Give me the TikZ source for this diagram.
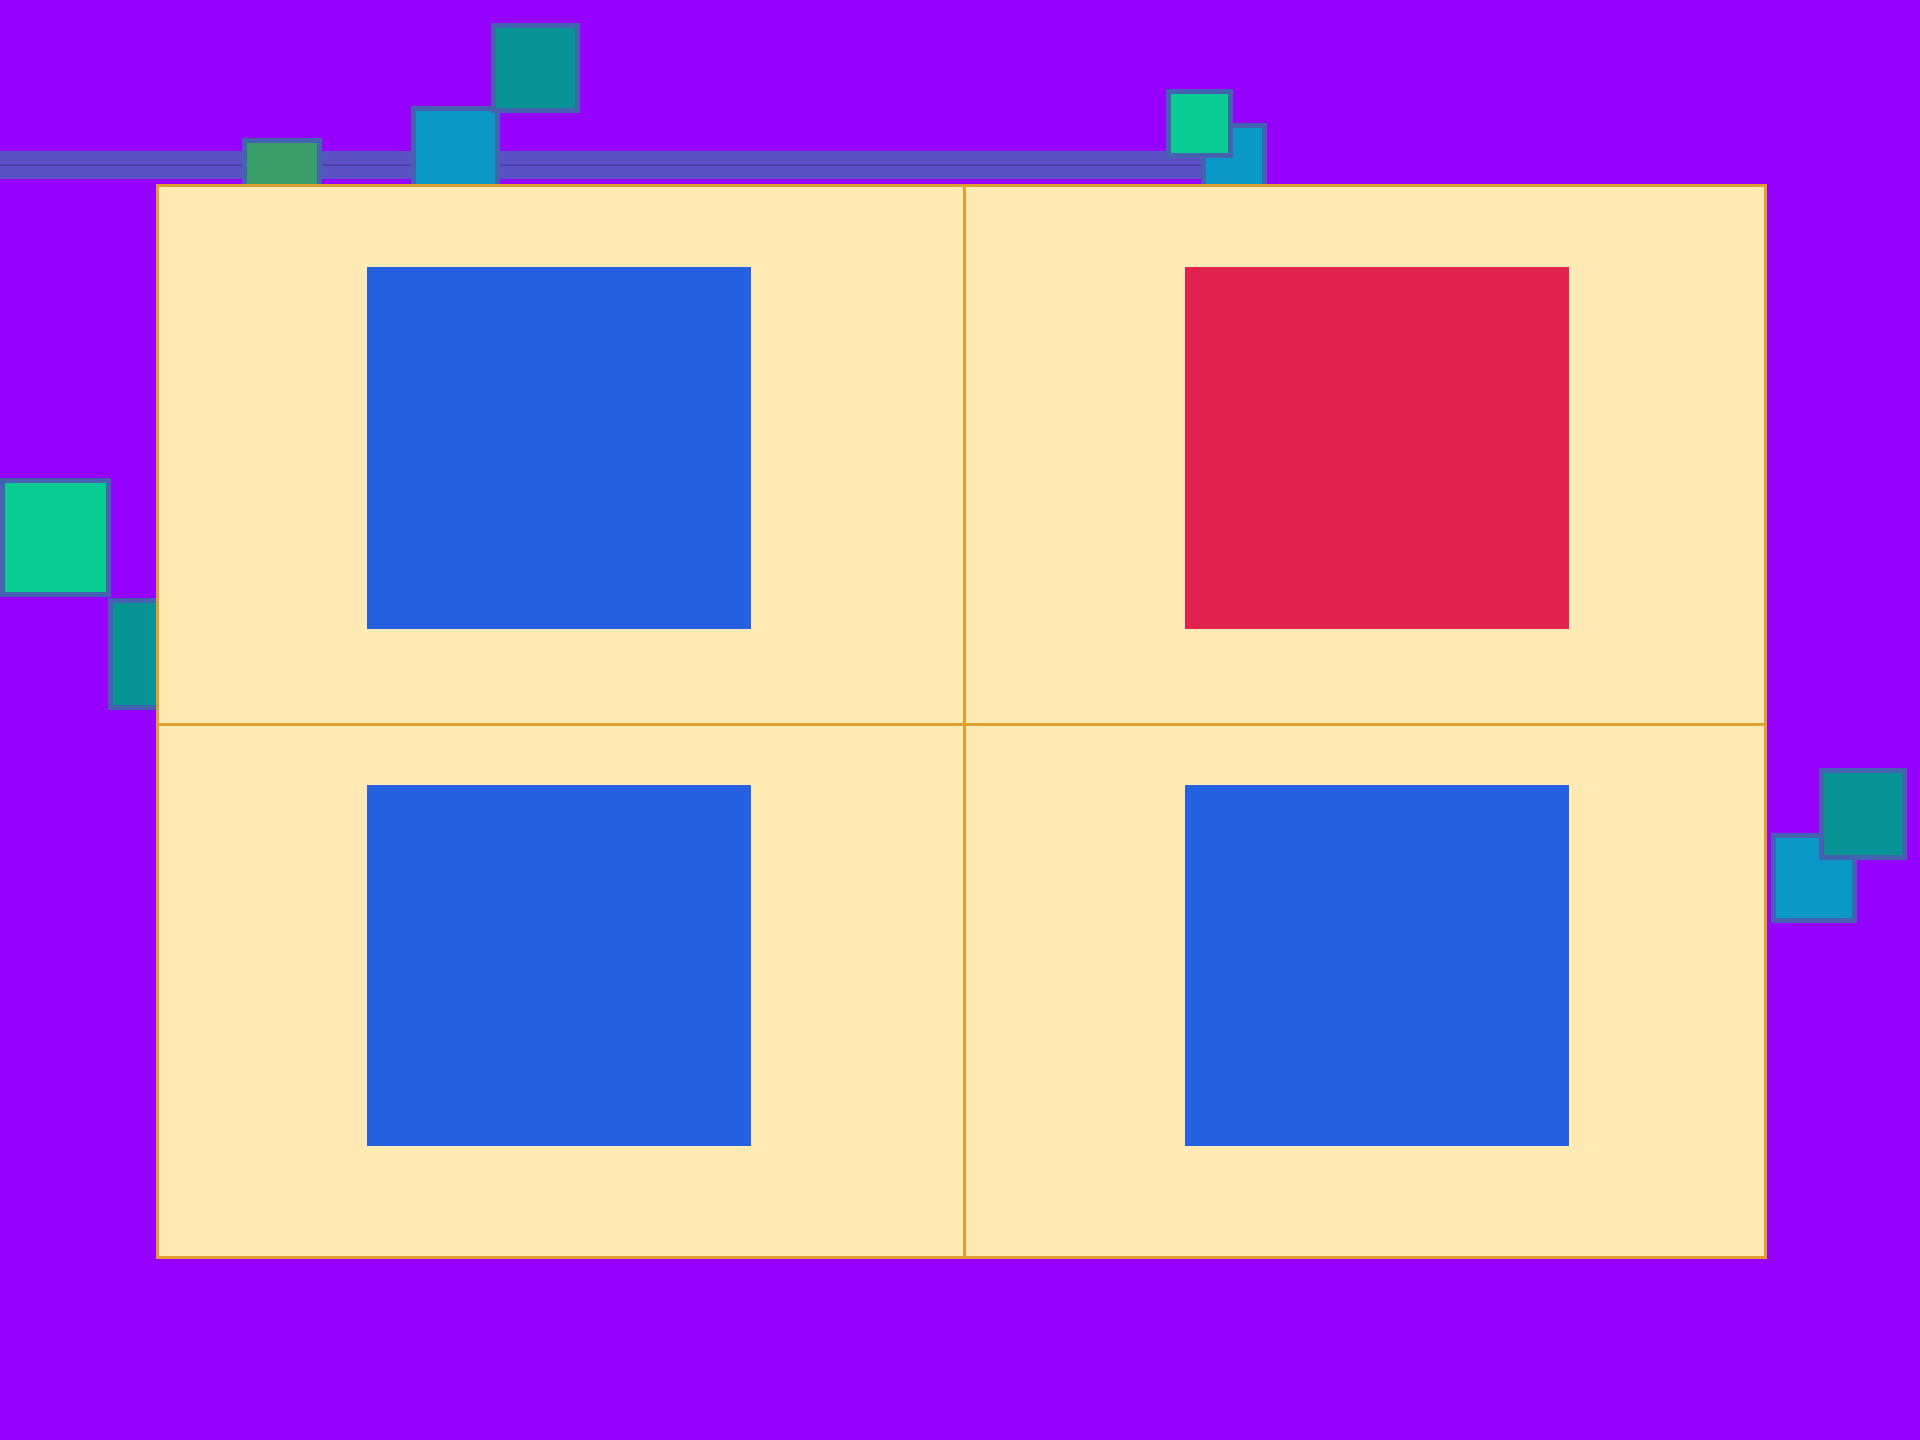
\documentclass[tikz,border=0pt]{standalone}
\begin{document}
\begin{tikzpicture}[x=1pt,y=-1pt,
  deco/.style={draw=sqedge,line width=5pt},
  cell/.style={fill=panelfill,draw=paneledge,line width=3pt}]
\definecolor{bg}{HTML}{9500FF}
\definecolor{barc}{HTML}{5A52C4}
\definecolor{barline}{HTML}{5040AA}
\definecolor{sqedge}{HTML}{4462B0}
\definecolor{dgreen}{HTML}{3A9E6A}
\definecolor{cyanb}{HTML}{0A98C8}
\definecolor{teal}{HTML}{089494}
\definecolor{mint}{HTML}{0CCC96}
\definecolor{panelfill}{HTML}{FFEAB4}
\definecolor{paneledge}{HTML}{E0A030}
\definecolor{bluesq}{HTML}{2560E0}
\definecolor{redsq}{HTML}{E0234E}
% background
\fill[bg] (0,0) rectangle (1920,1440);
\useasboundingbox (0,0) rectangle (1920,1440);
% bar
\fill[barc] (0,151) rectangle (1205,179);
\draw[barline,line width=2pt] (0,165) -- (1205,165);
% decorative squares (top left)
\draw[deco,fill=dgreen] (244,140) rectangle (319,200);
\draw[deco,fill=cyanb] (413,108) rectangle (497,200);
\draw[deco,fill=teal] (493,25) rectangle (577,110);
% top right
\draw[deco,fill=cyanb] (1203,125) rectangle (1264,200);
\draw[deco,fill=mint] (1168,91) rectangle (1230,155);
% left
\draw[deco,fill=teal] (110,600) rectangle (170,707);
\draw[deco,fill=mint] (2,480) rectangle (108,594);
% right
\draw[deco,fill=cyanb] (1773,835) rectangle (1854,920);
\draw[deco,fill=teal] (1821,770) rectangle (1904,857);
% panel cells
\node[cell,minimum width=807pt,minimum height=539pt,inner sep=0pt,anchor=north west] (c11) at (155.5,183.5) {};
\node[cell,minimum width=801pt,minimum height=539pt,inner sep=0pt,anchor=north west] (c12) at (962.5,183.5) {};
\node[cell,minimum width=807pt,minimum height=533pt,inner sep=0pt,anchor=north west] (c21) at (155.5,722.5) {};
\node[cell,minimum width=801pt,minimum height=533pt,inner sep=0pt,anchor=north west] (c22) at (962.5,722.5) {};
% inner squares
\fill[bluesq] (367,267) rectangle (751,629);
\fill[redsq] (1185,267) rectangle (1569,629);
\fill[bluesq] (367,785) rectangle (751,1146);
\fill[bluesq] (1185,785) rectangle (1569,1146);
\end{tikzpicture}
\end{document}
